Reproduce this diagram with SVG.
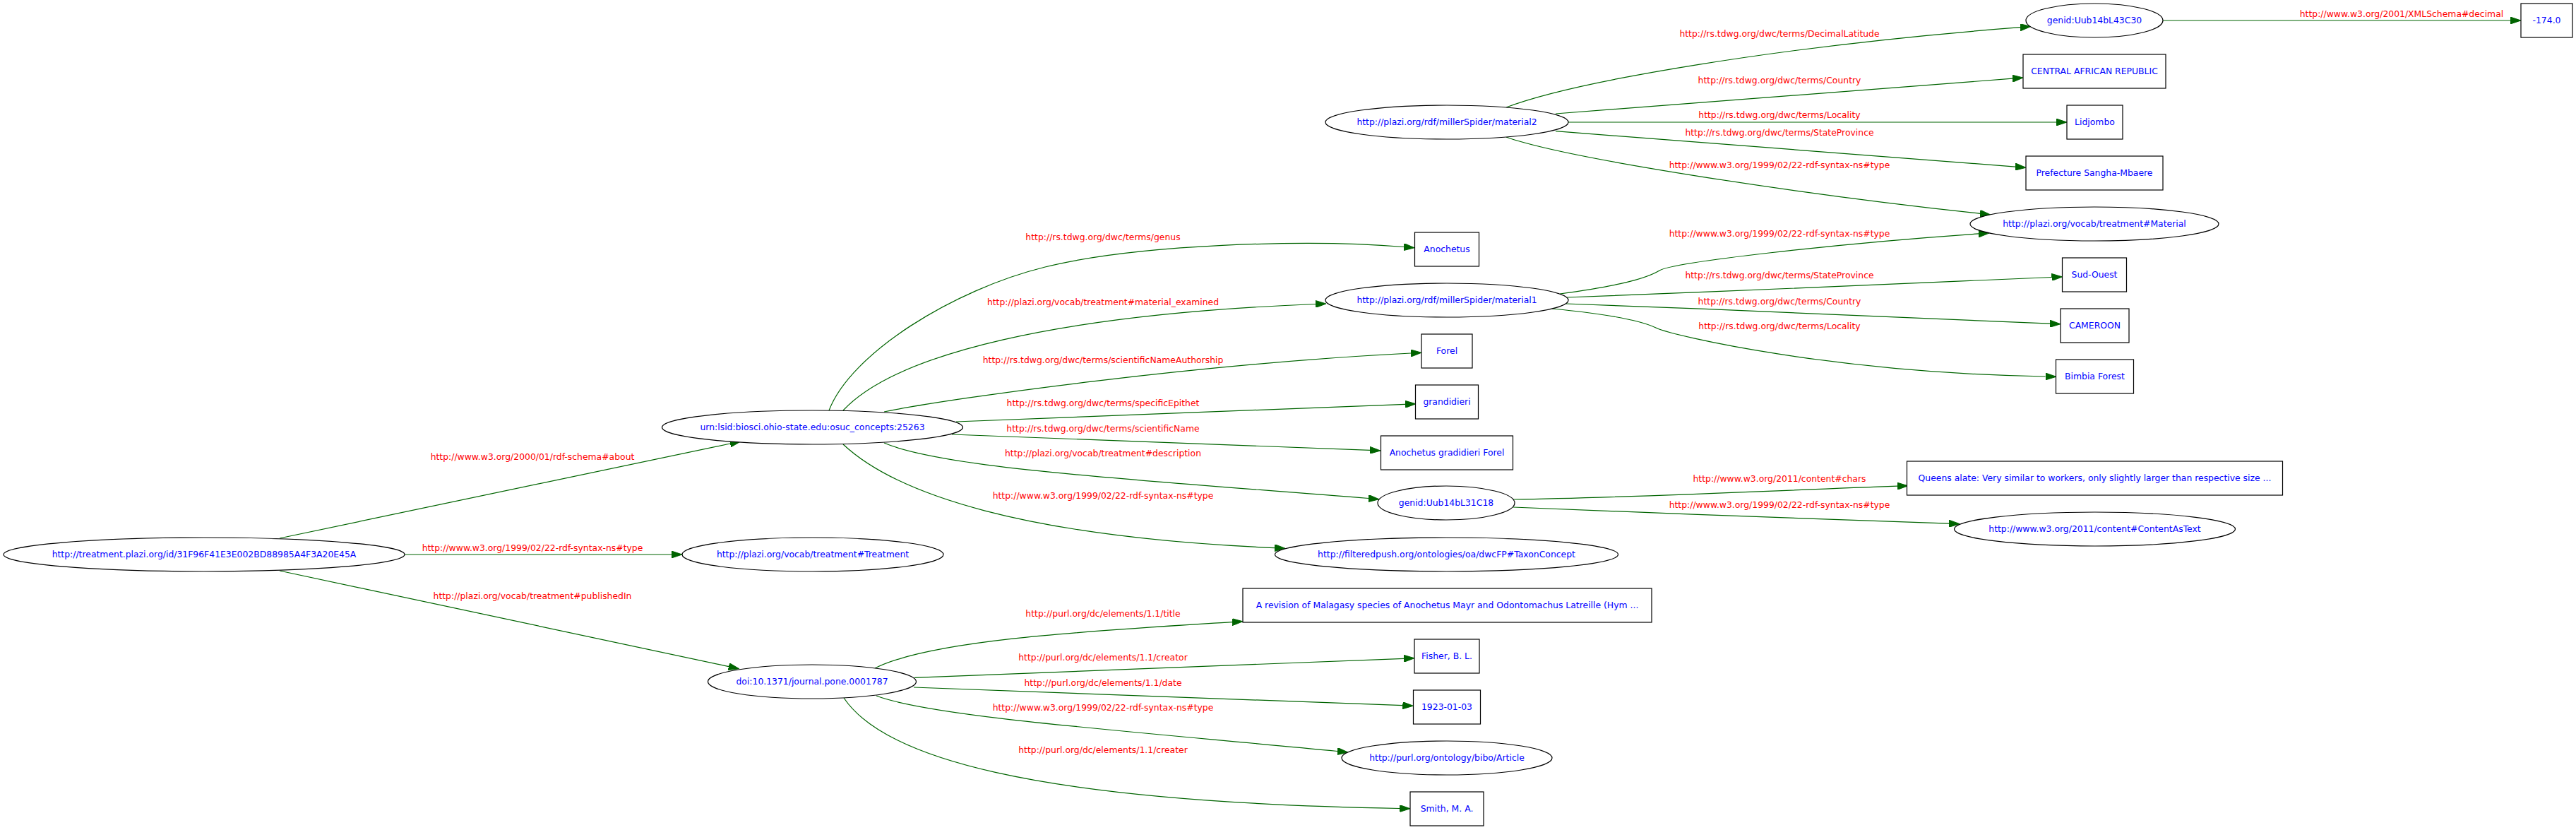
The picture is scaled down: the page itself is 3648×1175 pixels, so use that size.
<svg xmlns="http://www.w3.org/2000/svg" width="3648" height="1175" viewBox="0 0 3648 1175">
<defs>
<style>
.n{fill:#ffffff;stroke:#000000;stroke-width:1.2}
.nt{fill:#0000ff;font-family:"DejaVu Sans",sans-serif;font-size:12.4px;text-anchor:middle}
.e{fill:none;stroke:#006400;stroke-width:1.2}
.et{fill:#ff0000;font-family:"DejaVu Sans",sans-serif;font-size:12.4px;text-anchor:middle}
</style>
<marker id="ah" markerUnits="userSpaceOnUse" markerWidth="15" markerHeight="10" viewBox="0 0 15 10" refX="0" refY="5" orient="auto">
<path d="M0,0 L15,5 L0,10 z" fill="#006400" stroke="#006400" stroke-width="1"/>
</marker>
</defs>
<rect x="0" y="0" width="3648" height="1175" fill="#ffffff"/>
<g id="edges">
<path class="e" marker-end="url(#ah)" d="M396,762 L1034,628"/>
<path class="e" marker-end="url(#ah)" d="M573,785 L951,785"/>
<path class="e" marker-end="url(#ah)" d="M396,808 L1032,943.6"/>
<path class="e" marker-end="url(#ah)" d="M1174,581 C1205,500 1350,410 1480,378 C1610,346 1850,338 1988,349.5"/>
<path class="e" marker-end="url(#ah)" d="M1194,581 C1270,500 1500,445 1863,430.5"/>
<path class="e" marker-end="url(#ah)" d="M1252,583 C1350,563 1700,515 1998,500"/>
<path class="e" marker-end="url(#ah)" d="M1354,597 L1990,572.3"/>
<path class="e" marker-end="url(#ah)" d="M1348,615 L1940,637.4"/>
<path class="e" marker-end="url(#ah)" d="M1252,627 C1340,665 1650,682 1938,705.5"/>
<path class="e" marker-end="url(#ah)" d="M1194,629 C1270,700 1450,760 1805,775.6"/>
<path class="e" marker-end="url(#ah)" d="M2133,152 C2230,115 2520,65 2861,38.7"/>
<path class="e" marker-end="url(#ah)" d="M2203,161 L2850,111.2"/>
<path class="e" marker-end="url(#ah)" d="M2221,173 L2912,173"/>
<path class="e" marker-end="url(#ah)" d="M2203,185.7 L2854,236.1"/>
<path class="e" marker-end="url(#ah)" d="M2133,194 C2220,225 2550,275 2804,302.3"/>
<path class="e" marker-end="url(#ah)" d="M2209,416 C2290,405 2330,395 2350,383 C2370,371 2600,345 2802,330.9"/>
<path class="e" marker-end="url(#ah)" d="M2219,421 C2450,413 2700,400 2905.5,392.5"/>
<path class="e" marker-end="url(#ah)" d="M2218,430 C2450,438 2700,450 2903,458.2"/>
<path class="e" marker-end="url(#ah)" d="M2198,437 C2260,443 2320,452 2345,464 C2370,476 2600,528 2896.6,533"/>
<path class="e" marker-end="url(#ah)" d="M3063,29 L3555,29"/>
<path class="e" marker-end="url(#ah)" d="M2143,707 C2300,705 2500,695 2687,688.2"/>
<path class="e" marker-end="url(#ah)" d="M2143,718 C2350,726 2550,735 2760,741.2"/>
<path class="e" marker-end="url(#ah)" d="M1239,946 C1320,905 1550,893 1745,880.6"/>
<path class="e" marker-end="url(#ah)" d="M1295,959.3 L1988,932.3"/>
<path class="e" marker-end="url(#ah)" d="M1294,973 L1986.4,998.7"/>
<path class="e" marker-end="url(#ah)" d="M1241,985 C1320,1015 1600,1035 1894,1063.5"/>
<path class="e" marker-end="url(#ah)" d="M1195,988 C1250,1070 1450,1135 1982,1144.5"/>
<text class="et" x="754" y="651">http://www.w3.org/2000/01/rdf-schema#about</text>
<text class="et" x="754" y="779.5">http://www.w3.org/1999/02/22-rdf-syntax-ns#type</text>
<text class="et" x="754" y="847.5">http://plazi.org/vocab/treatment#publishedIn</text>
<text class="et" x="1562" y="340">http://rs.tdwg.org/dwc/terms/genus</text>
<text class="et" x="1562" y="431.7">http://plazi.org/vocab/treatment#material_examined</text>
<text class="et" x="1562" y="513.7">http://rs.tdwg.org/dwc/terms/scientificNameAuthorship</text>
<text class="et" x="1562" y="575">http://rs.tdwg.org/dwc/terms/specificEpithet</text>
<text class="et" x="1562" y="611">http://rs.tdwg.org/dwc/terms/scientificName</text>
<text class="et" x="1562" y="645.7">http://plazi.org/vocab/treatment#description</text>
<text class="et" x="1562" y="706">http://www.w3.org/1999/02/22-rdf-syntax-ns#type</text>
<text class="et" x="1562" y="873.3">http://purl.org/dc/elements/1.1/title</text>
<text class="et" x="1562" y="934.7">http://purl.org/dc/elements/1.1/creator</text>
<text class="et" x="1562" y="970.7">http://purl.org/dc/elements/1.1/date</text>
<text class="et" x="1562" y="1005.7">http://www.w3.org/1999/02/22-rdf-syntax-ns#type</text>
<text class="et" x="1562" y="1065.7">http://purl.org/dc/elements/1.1/creater</text>
<text class="et" x="2520" y="52.3">http://rs.tdwg.org/dwc/terms/DecimalLatitude</text>
<text class="et" x="2520" y="118.3">http://rs.tdwg.org/dwc/terms/Country</text>
<text class="et" x="2520" y="166.7">http://rs.tdwg.org/dwc/terms/Locality</text>
<text class="et" x="2520" y="192.3">http://rs.tdwg.org/dwc/terms/StateProvince</text>
<text class="et" x="2520" y="238.3">http://www.w3.org/1999/02/22-rdf-syntax-ns#type</text>
<text class="et" x="2520" y="334.7">http://www.w3.org/1999/02/22-rdf-syntax-ns#type</text>
<text class="et" x="2520" y="393.7">http://rs.tdwg.org/dwc/terms/StateProvince</text>
<text class="et" x="2520" y="431">http://rs.tdwg.org/dwc/terms/Country</text>
<text class="et" x="2520" y="465.7">http://rs.tdwg.org/dwc/terms/Locality</text>
<text class="et" x="2520" y="681.7">http://www.w3.org/2011/content#chars</text>
<text class="et" x="2520" y="718.7">http://www.w3.org/1999/02/22-rdf-syntax-ns#type</text>
<text class="et" x="3401" y="24">http://www.w3.org/2001/XMLSchema#decimal</text>
</g>
<g id="n_treatment"><ellipse class="n" cx="289" cy="785" rx="284" ry="24"/><text class="nt" x="289" y="789">http://treatment.plazi.org/id/31F96F41E3E002BD88985A4F3A20E45A</text></g>
<g id="n_urn"><ellipse class="n" cx="1150.5" cy="605" rx="213" ry="24"/><text class="nt" x="1150.5" y="609">urn:lsid:biosci.ohio-state.edu:osuc_concepts:25263</text></g>
<g id="n_Treatment"><ellipse class="n" cx="1151" cy="785" rx="185" ry="24"/><text class="nt" x="1151" y="789">http://plazi.org/vocab/treatment#Treatment</text></g>
<g id="n_doi"><ellipse class="n" cx="1150" cy="965" rx="147.5" ry="24"/><text class="nt" x="1150" y="969">doi:10.1371/journal.pone.0001787</text></g>
<g id="n_material2"><ellipse class="n" cx="2049" cy="173" rx="172" ry="24"/><text class="nt" x="2049" y="177">http://plazi.org/rdf/millerSpider/material2</text></g>
<g id="n_Anochetus"><rect class="n" x="2003.5" y="329" width="91" height="48"/><text class="nt" x="2049" y="357">Anochetus</text></g>
<g id="n_material1"><ellipse class="n" cx="2049" cy="425" rx="172" ry="24"/><text class="nt" x="2049" y="429">http://plazi.org/rdf/millerSpider/material1</text></g>
<g id="n_Forel"><rect class="n" x="2013" y="473" width="72" height="48"/><text class="nt" x="2049" y="501">Forel</text></g>
<g id="n_grandidieri"><rect class="n" x="2004.5" y="545" width="89" height="48"/><text class="nt" x="2049" y="573">grandidieri</text></g>
<g id="n_sciname"><rect class="n" x="1955.5" y="617" width="187" height="48"/><text class="nt" x="2049" y="645">Anochetus gradidieri Forel</text></g>
<g id="n_genid31"><ellipse class="n" cx="2048" cy="712" rx="97" ry="24"/><text class="nt" x="2048" y="716">genid:Uub14bL31C18</text></g>
<g id="n_TaxonConcept"><ellipse class="n" cx="2048.5" cy="785" rx="243" ry="24"/><text class="nt" x="2048.5" y="789">http://filteredpush.org/ontologies/oa/dwcFP#TaxonConcept</text></g>
<g id="n_title"><rect class="n" x="1760" y="833" width="579" height="48"/><text class="nt" x="2049.5" y="861">A revision of Malagasy species of Anochetus Mayr and Odontomachus Latreille (Hym ...</text></g>
<g id="n_Fisher"><rect class="n" x="2003" y="905" width="92" height="48"/><text class="nt" x="2049" y="933">Fisher, B. L.</text></g>
<g id="n_date"><rect class="n" x="2001.5" y="977" width="95" height="48"/><text class="nt" x="2049" y="1005">1923-01-03</text></g>
<g id="n_Article"><ellipse class="n" cx="2049" cy="1073" rx="149" ry="24"/><text class="nt" x="2049" y="1077">http://purl.org/ontology/bibo/Article</text></g>
<g id="n_Smith"><rect class="n" x="1997" y="1121" width="104" height="48"/><text class="nt" x="2049" y="1149">Smith, M. A.</text></g>
<g id="n_genid43"><ellipse class="n" cx="2966" cy="29" rx="97" ry="24"/><text class="nt" x="2966" y="33">genid:Uub14bL43C30</text></g>
<g id="n_CAR"><rect class="n" x="2865" y="77" width="202" height="48"/><text class="nt" x="2966" y="105">CENTRAL AFRICAN REPUBLIC</text></g>
<g id="n_Lidjombo"><rect class="n" x="2927" y="149" width="79" height="48"/><text class="nt" x="2966.5" y="177">Lidjombo</text></g>
<g id="n_Prefecture"><rect class="n" x="2869" y="221" width="194" height="48"/><text class="nt" x="2966" y="249">Prefecture Sangha-Mbaere</text></g>
<g id="n_Material"><ellipse class="n" cx="2966" cy="317" rx="176" ry="24"/><text class="nt" x="2966" y="321">http://plazi.org/vocab/treatment#Material</text></g>
<g id="n_SudOuest"><rect class="n" x="2920.5" y="365" width="91" height="48"/><text class="nt" x="2966" y="393">Sud-Ouest</text></g>
<g id="n_CAMEROON"><rect class="n" x="2918" y="437" width="97" height="48"/><text class="nt" x="2966.5" y="465">CAMEROON</text></g>
<g id="n_Bimbia"><rect class="n" x="2911.5" y="509" width="110" height="48"/><text class="nt" x="2966.5" y="537">Bimbia Forest</text></g>
<g id="n_Queens"><rect class="n" x="2700.5" y="653" width="532" height="48"/><text class="nt" x="2966.5" y="681">Queens alate: Very similar to workers, only slightly larger than respective size ...</text></g>
<g id="n_ContentAsText"><ellipse class="n" cx="2966.5" cy="749" rx="199" ry="24"/><text class="nt" x="2966.5" y="753">http://www.w3.org/2011/content#ContentAsText</text></g>
<g id="n_value"><rect class="n" x="3570" y="5" width="73" height="48"/><text class="nt" x="3606.5" y="33">-174.0</text></g>
</svg>
